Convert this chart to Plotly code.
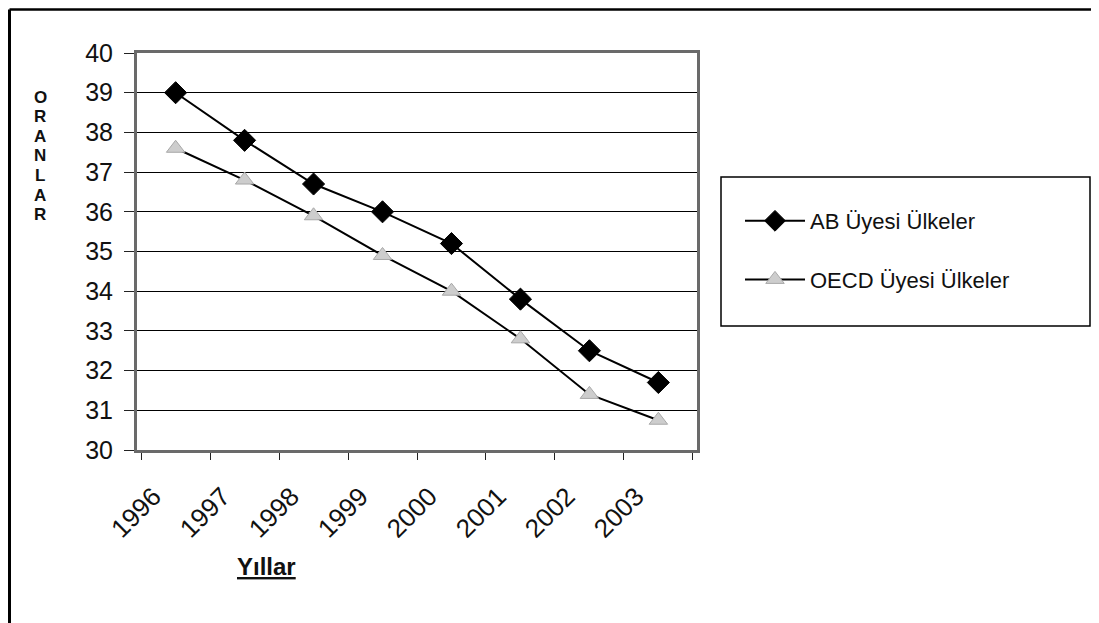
import plotly.graph_objects as go

years = ["1996", "1997", "1998", "1999", "2000", "2001", "2002", "2003"]
ab_values = [39.0, 37.8, 36.7, 36.0, 35.2, 33.8, 32.5, 31.7]
oecd_values = [37.6, 36.8, 35.9, 34.9, 34.0, 32.8, 31.4, 30.75]
series_names = ["AB Üyesi Ülkeler", "OECD Üyesi Ülkeler"]
y_title_letters = list("ORANLAR")
x_title = "Yıllar"

FONT = "Liberation Sans, Arial, sans-serif"

fig = go.Figure()
fig.add_trace(go.Scatter(
    x=years, y=ab_values, name=series_names[0], mode="lines+markers",
    line=dict(color="black", width=2),
    marker=dict(symbol="diamond", size=17, color="black", line=dict(color="black", width=1)),
    legendgroup="a",
))
fig.add_trace(go.Scatter(
    x=years, y=oecd_values, name=series_names[1], mode="lines+markers",
    line=dict(color="black", width=2),
    marker=dict(symbol="triangle-up", size=16, color="#cdcdcd", line=dict(color="#a8a8a8", width=1)),
    legendgroup="b",
))

# page has an 8px body margin; work in page coordinates and convert
OFF = 8
W, H = 1091, 615
PL, PR, PT, PB = 137, 697, 53, 450  # plot area in page pixels
L, R, T, B = PL - OFF, W - (PR - OFF), PT - OFF, H - (PB - OFF)
pw, ph = W - L - R, H - T - B

def px(x):
    return (x - OFF - L) / pw

def py(y):
    return (H - B - (y - OFF)) / ph

fig.update_layout(
    width=W, height=H,
    margin=dict(l=L, r=R, t=T, b=B, autoexpand=False),
    paper_bgcolor="white", plot_bgcolor="white",
    font=dict(family=FONT, color="#111"),
    showlegend=True,
    legend=dict(
        x=px(740), y=py(200), xanchor="left", yanchor="top",
        font=dict(size=22, family=FONT, color="#111"),
        bgcolor="rgba(0,0,0,0)", borderwidth=0,
        traceorder="grouped", tracegroupgap=27,
        itemwidth=60,
    ),
    xaxis=dict(
        type="category", tickson="boundaries",
        showgrid=False, ticks="outside", ticklen=7, tickwidth=1, tickcolor="#222",
        tickangle=-45, tickfont=dict(size=26, family=FONT, color="#111"),
        ticklabelstandoff=18, ticklabelshift=-22,
        showline=True, linecolor="#6a6a6a", linewidth=3, mirror=True,
        zeroline=False,
    ),
    yaxis=dict(
        range=[30, 40], dtick=1, tick0=30,
        showgrid=True, gridcolor="black", gridwidth=1,
        ticks="outside", ticklen=10, tickwidth=1, tickcolor="#222",
        tickfont=dict(size=25, family=FONT, color="#111"),
        ticklabelstandoff=6,
        showline=True, linecolor="#6a6a6a", linewidth=3, mirror=True,
        zeroline=False,
    ),
)

# legend frame
fig.add_shape(type="rect", xref="paper", yref="paper",
              x0=px(721), x1=px(1090), y0=py(326), y1=py(177),
              line=dict(color="black", width=1.5), fillcolor="rgba(0,0,0,0)", layer="below")
# outer frame (left and top edges)
fig.add_shape(type="line", xref="paper", yref="paper",
              x0=px(9.5), x1=px(9.5), y0=py(623), y1=py(9.5), line=dict(color="black", width=3))
fig.add_shape(type="line", xref="paper", yref="paper",
              x0=px(9.5), x1=px(1095), y0=py(9.5), y1=py(9.5), line=dict(color="black", width=2.5))

# vertical stacked axis title letters
for i, ch in enumerate(y_title_letters):
    fig.add_annotation(
        text="<b>" + ch + "</b>", xref="paper", yref="paper",
        x=px(40), y=py(97 + i * 19.6), xanchor="center", yanchor="middle", showarrow=False,
        font=dict(size=17, family=FONT, color="#111"),
    )
fig.add_annotation(
    text="<b><u>" + x_title + "</u></b>", xref="paper", yref="paper",
    x=px(266), y=py(566), xanchor="center", yanchor="middle", showarrow=False,
    font=dict(size=24, family=FONT, color="#111"),
)

fig.write_html("out.html")
